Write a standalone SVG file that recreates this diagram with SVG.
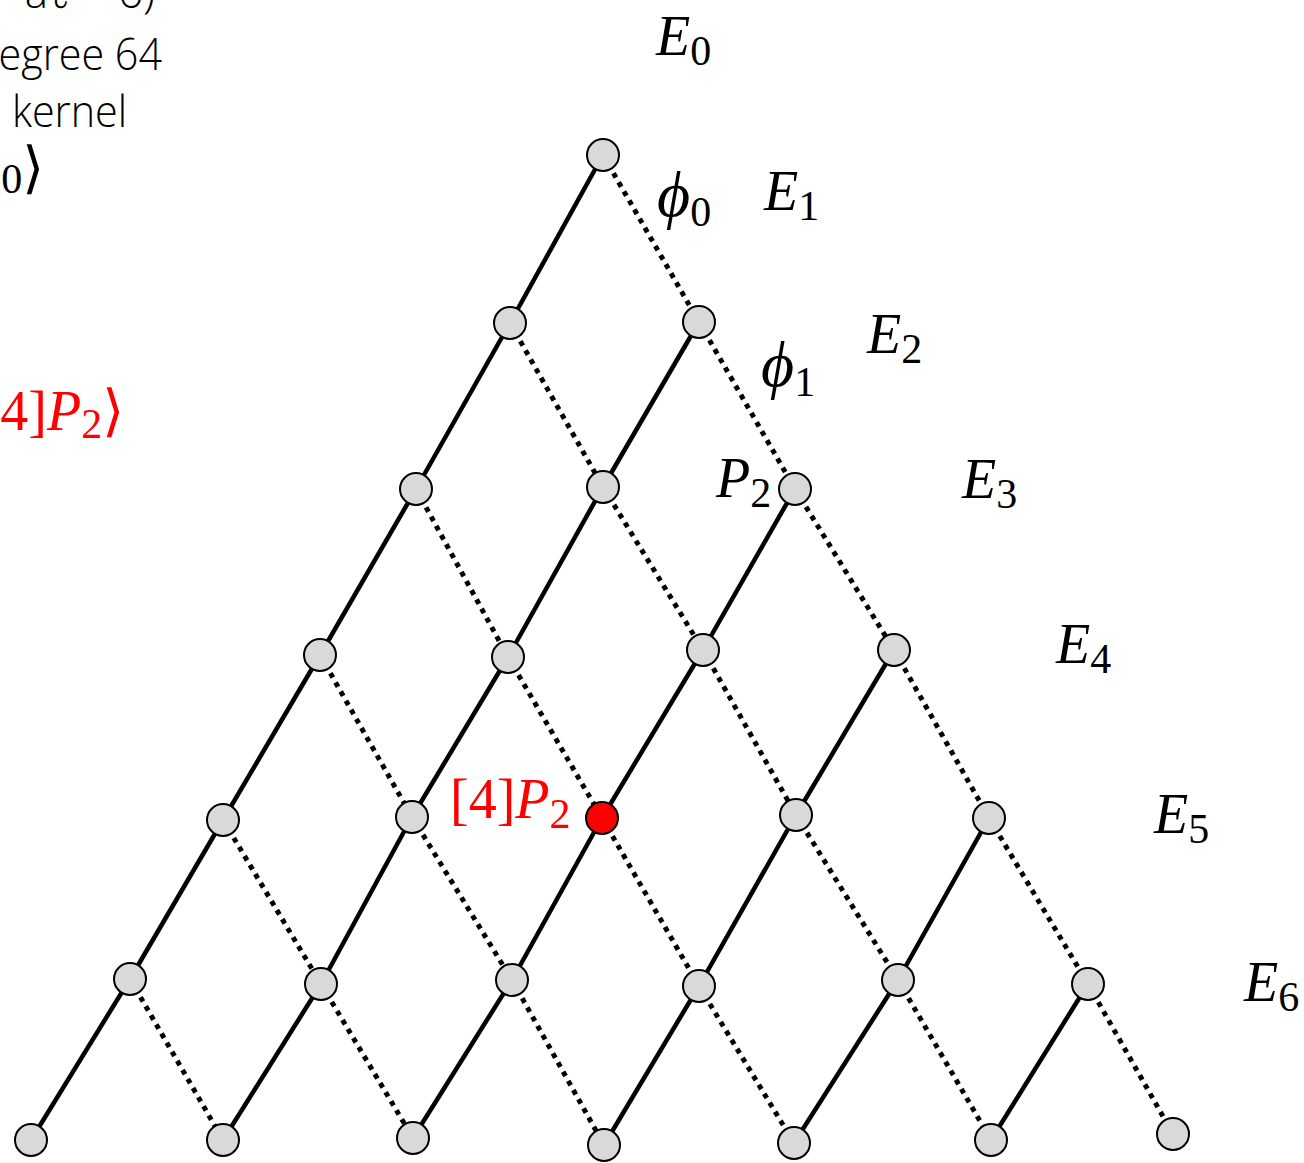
<svg xmlns="http://www.w3.org/2000/svg" width="1304" height="1163" viewBox="0 0 1304 1163">
<style>
.s{stroke:#000;stroke-width:4.5;fill:none}
.d{stroke:#000;stroke-width:5;fill:none;stroke-dasharray:5 5.5}
.n{fill:#d9d9d9;stroke:#000;stroke-width:2}
.r{fill:#ff0000;stroke:#000;stroke-width:2}
.t{font-family:"Open Sans","Liberation Sans",Arial,sans-serif;font-weight:300;font-size:44px;fill:#000}
.m{font-family:"Liberation Serif","DejaVu Serif",serif;font-size:56px;fill:#000}
.i{font-style:italic}
.sb{font-size:42px}
.ph{font-size:64px}
</style>
<rect width="1304" height="1163" fill="#fff"/>
<g id="caption">
<text class="t" x="155" y="8" text-anchor="end">aℓ = 6)</text>
<text class="t" x="-26" y="70" textLength="188" lengthAdjust="spacingAndGlyphs">degree 64</text>
<text class="t" x="12" y="127" textLength="115" lengthAdjust="spacingAndGlyphs">kernel</text>
<text class="m" x="44" y="187" text-anchor="end"><tspan class="i">P</tspan><tspan class="sb" dy="6">0</tspan><tspan dy="-6">⟩</tspan></text>
<text class="m" x="124" y="430" text-anchor="end" style="fill:#ff0000">4]<tspan class="i">P</tspan><tspan class="sb" dy="8">2</tspan><tspan dy="-8">⟩</tspan></text>
</g>
<g id="connectors">
<line class="s" x1="603" y1="155" x2="510" y2="323"/><line class="d" x1="603" y1="155" x2="699" y2="322"/>
<line class="s" x1="510" y1="323" x2="416" y2="489"/><line class="d" x1="510" y1="323" x2="603" y2="487"/>
<line class="s" x1="699" y1="322" x2="603" y2="487"/><line class="d" x1="699" y1="322" x2="795" y2="489"/>
<line class="s" x1="416" y1="489" x2="320" y2="655"/><line class="d" x1="416" y1="489" x2="508" y2="657"/>
<line class="s" x1="603" y1="487" x2="508" y2="657"/><line class="d" x1="603" y1="487" x2="703" y2="650"/>
<line class="s" x1="795" y1="489" x2="703" y2="650"/><line class="d" x1="795" y1="489" x2="894" y2="650"/>
<line class="s" x1="320" y1="655" x2="223" y2="820"/><line class="d" x1="320" y1="655" x2="412" y2="817"/>
<line class="s" x1="508" y1="657" x2="412" y2="817"/><line class="d" x1="508" y1="657" x2="602" y2="818"/>
<line class="s" x1="703" y1="650" x2="602" y2="818"/><line class="d" x1="703" y1="650" x2="796" y2="815"/>
<line class="s" x1="894" y1="650" x2="796" y2="815"/><line class="d" x1="894" y1="650" x2="989" y2="818"/>
<line class="s" x1="223" y1="820" x2="130" y2="979"/><line class="d" x1="223" y1="820" x2="321" y2="984"/>
<line class="s" x1="412" y1="817" x2="321" y2="984"/><line class="d" x1="412" y1="817" x2="512" y2="980"/>
<line class="s" x1="602" y1="818" x2="512" y2="980"/><line class="d" x1="602" y1="818" x2="699" y2="986"/>
<line class="s" x1="796" y1="815" x2="699" y2="986"/><line class="d" x1="796" y1="815" x2="898" y2="980"/>
<line class="s" x1="989" y1="818" x2="898" y2="980"/><line class="d" x1="989" y1="818" x2="1088" y2="984"/>
<line class="s" x1="130" y1="979" x2="31" y2="1140"/><line class="d" x1="130" y1="979" x2="223" y2="1140"/>
<line class="s" x1="321" y1="984" x2="223" y2="1140"/><line class="d" x1="321" y1="984" x2="413" y2="1138"/>
<line class="s" x1="512" y1="980" x2="413" y2="1138"/><line class="d" x1="512" y1="980" x2="604" y2="1145"/>
<line class="s" x1="699" y1="986" x2="604" y2="1145"/><line class="d" x1="699" y1="986" x2="794" y2="1143"/>
<line class="s" x1="898" y1="980" x2="794" y2="1143"/><line class="d" x1="898" y1="980" x2="991" y2="1140"/>
<line class="s" x1="1088" y1="984" x2="991" y2="1140"/><line class="d" x1="1088" y1="984" x2="1173" y2="1134"/>
</g>
<g id="n00"><circle class="n" cx="603" cy="155" r="16"/></g>
<g id="n10"><circle class="n" cx="510" cy="323" r="16"/></g>
<g id="n11"><circle class="n" cx="699" cy="322" r="16"/></g>
<g id="n20"><circle class="n" cx="416" cy="489" r="16"/></g>
<g id="n21"><circle class="n" cx="603" cy="487" r="16"/></g>
<g id="n22"><circle class="n" cx="795" cy="489" r="16"/></g>
<g id="n30"><circle class="n" cx="320" cy="655" r="16"/></g>
<g id="n31"><circle class="n" cx="508" cy="657" r="16"/></g>
<g id="n32"><circle class="n" cx="703" cy="650" r="16"/></g>
<g id="n33"><circle class="n" cx="894" cy="650" r="16"/></g>
<g id="n40"><circle class="n" cx="223" cy="820" r="16"/></g>
<g id="n41"><circle class="n" cx="412" cy="817" r="16"/></g>
<g id="n42"><circle class="r" cx="602" cy="818" r="16"/></g>
<g id="n43"><circle class="n" cx="796" cy="815" r="16"/></g>
<g id="n44"><circle class="n" cx="989" cy="818" r="16"/></g>
<g id="n50"><circle class="n" cx="130" cy="979" r="16"/></g>
<g id="n51"><circle class="n" cx="321" cy="984" r="16"/></g>
<g id="n52"><circle class="n" cx="512" cy="980" r="16"/></g>
<g id="n53"><circle class="n" cx="699" cy="986" r="16"/></g>
<g id="n54"><circle class="n" cx="898" cy="980" r="16"/></g>
<g id="n55"><circle class="n" cx="1088" cy="984" r="16"/></g>
<g id="n60"><circle class="n" cx="31" cy="1140" r="16"/></g>
<g id="n61"><circle class="n" cx="223" cy="1140" r="16"/></g>
<g id="n62"><circle class="n" cx="413" cy="1138" r="16"/></g>
<g id="n63"><circle class="n" cx="604" cy="1145" r="16"/></g>
<g id="n64"><circle class="n" cx="794" cy="1143" r="16"/></g>
<g id="n65"><circle class="n" cx="991" cy="1140" r="16"/></g>
<g id="n66"><circle class="n" cx="1173" cy="1134" r="16"/></g>
<g id="labels">
<text class="m" x="656" y="55"><tspan class="i">E</tspan><tspan class="sb" dy="10">0</tspan></text>
<text class="m" x="764" y="210"><tspan class="i">E</tspan><tspan class="sb" dy="10">1</tspan></text>
<text class="m" x="867" y="353"><tspan class="i">E</tspan><tspan class="sb" dy="10">2</tspan></text>
<text class="m" x="962" y="498"><tspan class="i">E</tspan><tspan class="sb" dy="10">3</tspan></text>
<text class="m" x="1056" y="663"><tspan class="i">E</tspan><tspan class="sb" dy="10">4</tspan></text>
<text class="m" x="1154" y="833"><tspan class="i">E</tspan><tspan class="sb" dy="10">5</tspan></text>
<text class="m" x="1244" y="1001"><tspan class="i">E</tspan><tspan class="sb" dy="10">6</tspan></text>
<text class="m" x="657" y="216"><tspan class="i ph">ϕ</tspan><tspan class="sb" dy="10">0</tspan></text>
<text class="m" x="761" y="386"><tspan class="i ph">ϕ</tspan><tspan class="sb" dy="10">1</tspan></text>
<text class="m" x="716" y="497"><tspan class="i">P</tspan><tspan class="sb" dy="10">2</tspan></text>
<text class="m" x="450" y="818" style="fill:#ff0000">[4]<tspan class="i">P</tspan><tspan class="sb" dy="10">2</tspan></text>
</g>
</svg>
